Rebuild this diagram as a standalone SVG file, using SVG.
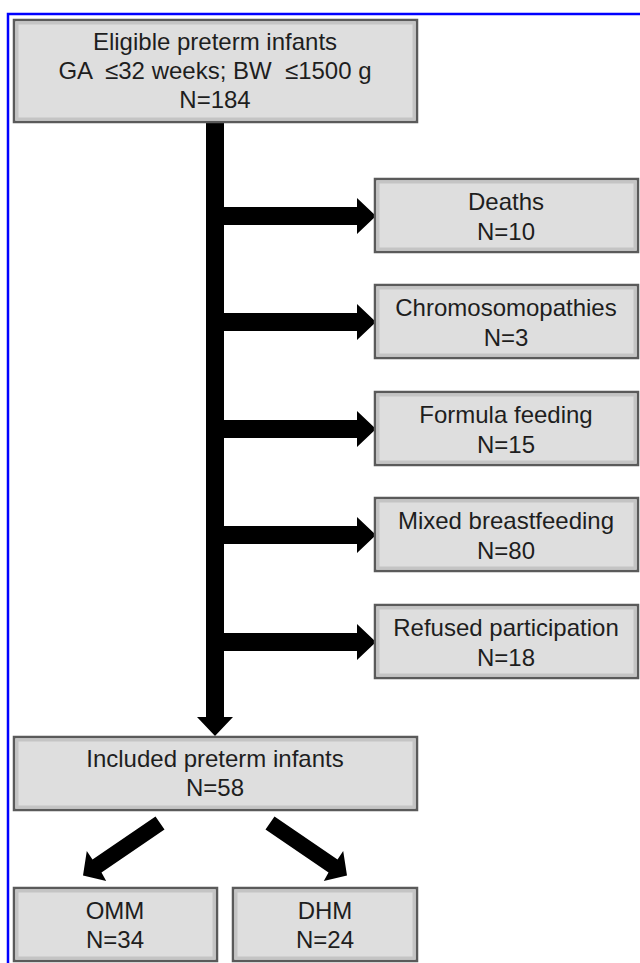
<svg xmlns="http://www.w3.org/2000/svg" width="640" height="963" viewBox="0 0 640 963">
<style>
.box{fill:#dedede;stroke:#5a5a5a;stroke-width:2.5}
.inner{fill:none;stroke:#c4c4c4;stroke-width:3}
.t{font-family:"Liberation Sans",Arial,Helvetica,sans-serif;font-size:24px;fill:#1e1e1e;text-anchor:middle}
.arr{fill:#000}
</style>
<rect x="0" y="0" width="640" height="963" fill="#fff"/>
<path d="M8 963 V14 H640" fill="none" stroke="#0000ff" stroke-width="2.5"/>

<g id="connectors">
  <polygon class="arr" points="206,122 224,122 224,717 233,717 215,736 197,717 206,717"/>
  <polygon class="arr" points="224,207 357,207 357,198 376,216 357,234 357,225 224,225"/>
  <polygon class="arr" points="224,313 357,313 357,304 376,322 357,340 357,331 224,331"/>
  <polygon class="arr" points="224,420 357,420 357,411 376,429 357,447 357,438 224,438"/>
  <polygon class="arr" points="224,526 357,526 357,517 376,535 357,553 357,544 224,544"/>
  <polygon class="arr" points="224,633 357,633 357,624 376,642 357,660 357,651 224,651"/>
  <polygon class="arr" points="155.5,816.4 92.5,859.4 86.8,851.1 83,875.6 106.2,880.9 101.5,872.6 164.5,829.6"/>
  <polygon class="arr" points="274.5,816.4 337.5,859.4 343.2,851.1 347,875.6 323.8,880.9 328.5,872.6 265.5,829.6"/>
</g>

<g id="eligible">
  <rect class="box" x="14" y="20" width="403" height="102"/>
  <rect class="inner" x="17" y="23" width="397" height="96"/>
  <text class="t" x="215" y="50">Eligible preterm infants</text>
  <text class="t" x="215" y="79" xml:space="preserve">GA  ≤32 weeks; BW  ≤1500 g</text>
  <text class="t" x="215" y="108">N=184</text>
</g>

<g id="deaths">
  <rect class="box" x="375" y="179" width="263" height="73"/>
  <rect class="inner" x="378" y="182" width="257" height="67"/>
  <text class="t" x="506" y="210">Deaths</text>
  <text class="t" x="506" y="240">N=10</text>
</g>

<g id="chromosomopathies">
  <rect class="box" x="375" y="285" width="263" height="73"/>
  <rect class="inner" x="378" y="288" width="257" height="67"/>
  <text class="t" x="506" y="316">Chromosomopathies</text>
  <text class="t" x="506" y="346">N=3</text>
</g>

<g id="formula">
  <rect class="box" x="375" y="392" width="263" height="73"/>
  <rect class="inner" x="378" y="395" width="257" height="67"/>
  <text class="t" x="506" y="423">Formula feeding</text>
  <text class="t" x="506" y="453">N=15</text>
</g>

<g id="mixed">
  <rect class="box" x="375" y="498" width="263" height="73"/>
  <rect class="inner" x="378" y="501" width="257" height="67"/>
  <text class="t" x="506" y="529">Mixed breastfeeding</text>
  <text class="t" x="506" y="559">N=80</text>
</g>

<g id="refused">
  <rect class="box" x="375" y="605" width="263" height="73"/>
  <rect class="inner" x="378" y="608" width="257" height="67"/>
  <text class="t" x="506" y="636">Refused participation</text>
  <text class="t" x="506" y="666">N=18</text>
</g>

<g id="included">
  <rect class="box" x="14" y="737" width="403" height="73"/>
  <rect class="inner" x="17" y="740" width="397" height="67"/>
  <text class="t" x="215" y="767">Included preterm infants</text>
  <text class="t" x="215" y="796">N=58</text>
</g>

<g id="omm">
  <rect class="box" x="14" y="888" width="203" height="73"/>
  <rect class="inner" x="17" y="891" width="197" height="67"/>
  <text class="t" x="115" y="919">OMM</text>
  <text class="t" x="115" y="948">N=34</text>
</g>

<g id="dhm">
  <rect class="box" x="233" y="888" width="184" height="73"/>
  <rect class="inner" x="236" y="891" width="178" height="67"/>
  <text class="t" x="325" y="919">DHM</text>
  <text class="t" x="325" y="948">N=24</text>
</g>
</svg>
